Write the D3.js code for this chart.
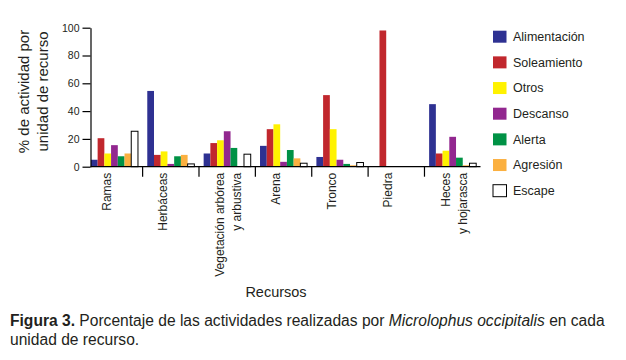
<!DOCTYPE html>
<html>
<head>
<meta charset="utf-8">
<script src="https://cdn.jsdelivr.net/npm/d3@7"></script>
<style>
  body { margin: 0; background: #fff; }
  text { font-family: "Liberation Sans", Arial, sans-serif; fill: #231f20; }
</style>
</head>
<body>
<div id="chart"></div>
<script>
// resources (x categories) - "\n" splits a label in two lines
const recursos = ["Ramas", "Herbáceas", "Vegetación arbórea\ny arbustiva", "Arena", "Tronco", "Piedra", "Heces\ny hojarasca"];
const actividades = ["Alimentación", "Soleamiento", "Otros", "Descanso", "Alerta", "Agresión", "Escape"];
const colores = ["#2e3192", "#c1272d", "#fff200", "#92278f", "#009245", "#fbb040", "#ffffff"];

// % activity per resource, one array per activity
const alimentacion = [5, 54.5, 9.5, 15, 7, 0, 45];
const soleamiento  = [20.5, 8.5, 17, 27, 51.5, 98, 9.5];
const otros        = [9.5, 11, 19, 30.5, 27, 0, 11.5];
const descanso     = [15.5, 2, 25.5, 3.5, 5, 0, 21.5];
const alerta       = [7.5, 7.5, 13.5, 12, 2, 0, 6.5];
const agresion     = [9.5, 8.5, 0, 6, 1, 0, 1];
const escape       = [25.5, 2, 9, 2.5, 3, 0, 2.5];
const series = [alimentacion, soleamiento, otros, descanso, alerta, agresion, escape];

const yTicks = [0, 20, 40, 60, 80, 100];

const width = 626, height = 360;
const margin = {top: 27.7, left: 90.5, bottom: 166.7};

const svg = d3.select("#chart").append("svg")
    .attr("width", width).attr("height", height)
    .attr("viewBox", [0, 0, width, height]);

// flatten into rows for the join
const data = [];
recursos.forEach((r, i) => {
    actividades.forEach((a, j) => {
        data.push({recurso: r, actividad: a, valor: series[j][i], color: colores[j]});
    });
});

const x = d3.scaleBand()
    .domain(recursos)
    .range([90.9, 476.2])
    .paddingInner(0.165)
    .paddingOuter(0);

const xi = d3.scaleBand()
    .domain(actividades)
    .range([0, x.bandwidth()]);

const y = d3.scaleLinear()
    .domain([0, 100])
    .range([margin.bottom, margin.top]);

// bars
svg.append("g").selectAll("rect")
    .data(data.filter(d => d.valor > 0))
    .join("rect")
    .attr("x", d => x(d.recurso) + xi(d.actividad))
    .attr("y", d => y(d.valor))
    .attr("width", xi.bandwidth())
    .attr("height", d => y(0) - y(d.valor))
    .attr("fill", d => d.color)
    .attr("stroke", d => d.actividad === "Escape" ? "#000" : "none")
    .attr("stroke-width", 1);

// y axis
const yAxis = g => g
    .attr("transform", `translate(${margin.left},0)`)
    .call(d3.axisLeft(y).tickValues(yTicks).tickSize(8).tickSizeOuter(0).tickPadding(3))
    .call(g => g.selectAll("text").style("font-size", "10.5px").attr("fill", "#231f20"))
    .call(g => g.selectAll("line,path").attr("stroke", "#000").attr("stroke-width", 1.2));
svg.append("g").call(yAxis);

// x axis line + separators between groups
svg.append("line")
    .attr("x1", margin.left).attr("x2", 480.5)
    .attr("y1", y(0)).attr("y2", y(0))
    .attr("stroke", "#000").attr("stroke-width", 1.2);

const step = x.step();
svg.append("g").selectAll("line")
    .data(recursos.slice(1))
    .join("line")
    .attr("x1", d => x(d) - step * x.paddingInner() / 2)
    .attr("x2", d => x(d) - step * x.paddingInner() / 2)
    .attr("y1", y(0)).attr("y2", y(0) + 10)
    .attr("stroke", "#000").attr("stroke-width", 1.2);

// category labels (vertical)
const labels = svg.append("g").selectAll("g")
    .data(recursos)
    .join("g")
    .attr("transform", d => `translate(${x(d) + x.bandwidth() / 2},${y(0) + 6})`);

labels.each(function(d) {
    const lines = d.split("\n");
    const offs = lines.length === 1 ? [-8] : [-7, 10];
    lines.forEach((l, k) => {
        d3.select(this).append("text")
            .attr("transform", `translate(${offs[k]},0) rotate(-90)`)
            .attr("text-anchor", "end")
            .attr("dy", "0.35em")
            .style("font-size", "12px")
            .text(l);
    });
});

// axis titles
svg.append("text")
    .attr("x", 276).attr("y", 296.5)
    .attr("text-anchor", "middle")
    .style("font-size", "14.5px")
    .text("Recursos");

const yTitle = svg.append("text")
    .attr("transform", "translate(29,91.5) rotate(-90)")
    .attr("text-anchor", "middle")
    .style("font-size", "15px");
yTitle.append("tspan").attr("x", 0).attr("y", 0).text("% de actividad por");
yTitle.append("tspan").attr("x", 0).attr("y", 18.5).text("unidad de recurso");

// legend
const ly = d3.scalePoint().domain(actividades).range([36.7, 190.7]);
const legend = svg.append("g").selectAll("g")
    .data(actividades)
    .join("g")
    .attr("transform", d => `translate(493,${ly(d)})`);

legend.append("rect")
    .attr("x", 0).attr("y", -6)
    .attr("width", 13.5).attr("height", 12)
    .attr("fill", (d, i) => colores[i])
    .attr("stroke", d => d === "Escape" ? "#000" : "none");

legend.append("text")
    .attr("x", 20).attr("dy", "0.35em")
    .style("font-size", "12.5px")
    .text(d => d);

// caption
const cap = svg.append("text")
    .attr("x", 10).attr("y", 325.5)
    .style("font-size", "15.6px");
cap.append("tspan").style("font-weight", "bold").text("Figura 3.");
cap.append("tspan").text(" Porcentaje de las actividades realizadas por ");
cap.append("tspan").style("font-style", "italic").text("Microlophus occipitalis");
cap.append("tspan").text(" en cada");
svg.append("text")
    .attr("x", 10).attr("y", 344.5)
    .style("font-size", "15.6px")
    .text("unidad de recurso.");
</script>
</body>
</html>
